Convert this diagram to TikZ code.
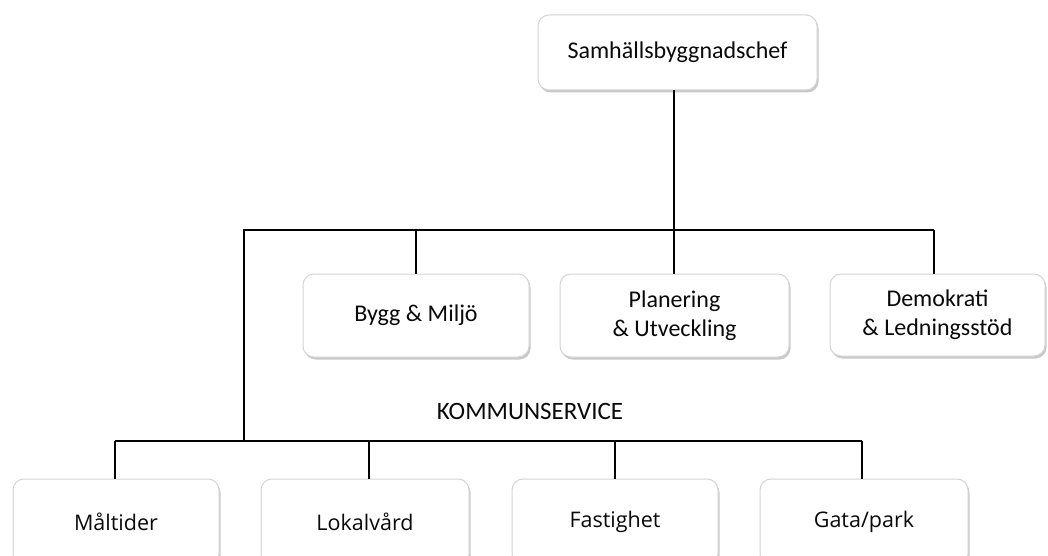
\documentclass[tikz,border=0pt]{standalone}
\usepackage{fontspec}
\setmainfont{Carlito}
\newfontfamily\lowfont{Open Sans}
\usetikzlibrary{shadows}
\definecolor{boxline}{HTML}{D4D4D4}
\definecolor{txt}{HTML}{0A0A0A}
\tikzset{
  orgbox/.style={draw=boxline, line width=1pt, fill=white, rounded corners=11pt,
    inner sep=0pt, align=center, text=txt, font=\fontsize{24}{29}\selectfont,
    drop shadow={shadow xshift=1.5pt, shadow yshift=-2.5pt, opacity=0.35, fill=black!60}},
  lowbox/.style={orgbox, font=\lowfont\fontsize{21.5}{26}\selectfont},
  link/.style={line width=1.4pt, draw=black}
}
\begin{document}
\begin{tikzpicture}[x=1pt,y=-1pt]
\useasboundingbox[clip] (0,0) rectangle (1048,556);
\fill[white] (0,0) rectangle (1048,556);
% top
\node[orgbox, minimum width=279pt, minimum height=75pt] (chef) at (677.5,52.5) {Samhällsbyggnadschef};
% middle
\node[orgbox, minimum width=226pt, minimum height=83pt] (bygg) at (416,315.5) {Bygg \& Miljö};
\node[orgbox, minimum width=229pt, minimum height=83pt] (plan) at (674.5,315.5) {Planering\\\& Utveckling};
\node[orgbox, minimum width=215pt, minimum height=82pt] (demo) at (937.5,315) {Demokrati\\\& Ledningsstöd};
% label
\node[text=txt, font=\fontsize{25}{30}\selectfont, inner sep=0pt] (ks) at (530,411) {KOMMUNSERVICE};
% bottom
\node[lowbox, minimum width=206pt, minimum height=86pt] (malt) at (116,522) {Måltider};
\node[lowbox, minimum width=208pt, minimum height=86pt] (lokal) at (365,522) {Lokalvård};
\node[lowbox, minimum width=206pt, minimum height=86pt] (fast) at (615,522) {Fastighet};
\node[lowbox, minimum width=208pt, minimum height=86pt] (gata) at (864,522) {Gata/park};
% junctions
\coordinate (jtop) at (674,230);
\coordinate (jleft) at (243,230);
\coordinate (jright) at (934,230);
\coordinate (jbyg) at (416,230);
\coordinate (jks) at (244,441);
\coordinate (jb1) at (115,441);
\coordinate (jb2) at (369,441);
\coordinate (jb3) at (615,441);
\coordinate (jb4) at (862,441);
% connectors
\draw[link] (chef.south -| jtop) -- (jtop);
\draw[link] (jleft) -- (jright);
\draw[link] (jbyg) -- (jbyg |- bygg.north);
\draw[link] (jtop) -- (jtop |- plan.north);
\draw[link] (jright) -- (jright |- demo.north);
\draw[link] (jleft -| jks) -- (jks);
\draw[link] (jb1) -- (jb4);
\draw[link] (jb1) -- (jb1 |- malt.north);
\draw[link] (jb2) -- (jb2 |- lokal.north);
\draw[link] (jb3) -- (jb3 |- fast.north);
\draw[link] (jb4) -- (jb4 |- gata.north);
\end{tikzpicture}
\end{document}
